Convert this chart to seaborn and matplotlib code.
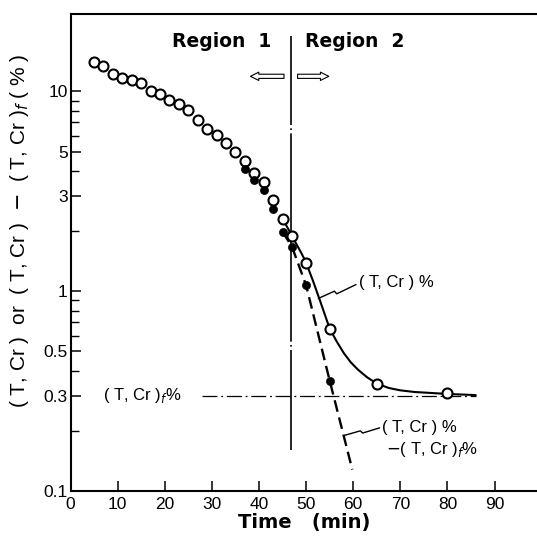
import numpy as np
import pandas as pd
import matplotlib
matplotlib.use("Agg")
import matplotlib.pyplot as plt
from matplotlib.ticker import FixedLocator, NullFormatter
import seaborn as sns

# open circles: (T,Cr) %
open_t = [5, 7, 9, 11, 13, 15, 17, 19, 21, 23, 25, 27, 29, 31, 33, 35, 37, 39, 41, 43, 45, 47,
          50, 55, 65, 80]
open_c = [14.1, 13.4, 12.2, 11.7, 11.4, 11.0, 10.0, 9.7, 9.1, 8.6, 8.1, 7.2, 6.5, 6.06, 5.5,
          4.95, 4.47, 3.9, 3.5, 2.85, 2.31, 1.89, 1.39, 0.65, 0.342, 0.31]

# filled circles: (T,Cr) - (T,Cr)f
fill_t = [37, 39, 41, 43, 45, 47, 50, 55]
fill_c = [4.1, 3.6, 3.2, 2.58, 1.98, 1.67, 1.07, 0.357]

# smooth (T,Cr)% curve in region 2
curve_t = [45, 47, 49, 50, 51.5, 53, 55, 56.5, 58, 59.5, 61, 63, 65, 67.5, 70, 73, 76, 80, 86]
curve_c = [2.31, 1.89, 1.55, 1.39, 1.12, 0.89, 0.65, 0.56, 0.49, 0.44, 0.405, 0.37, 0.345,
           0.328, 0.319, 0.313, 0.310, 0.306, 0.302]

# dashed difference line
dash_t = [45, 47, 50, 55, 59.8]
dash_c = [1.98, 1.67, 1.07, 0.357, 0.128]

cr_f = 0.3
t_switch = 46.7

sns.set_style("ticks")
plt.rcParams['font.family'] = ['Liberation Sans', 'DejaVu Sans']
plt.rcParams.update({'text.color': 'black', 'axes.labelcolor': 'black',
                     'xtick.color': 'black', 'ytick.color': 'black',
                     'axes.edgecolor': 'black'})

fig = plt.figure(figsize=(5.37, 5.45), dpi=100)
ax = fig.add_axes([70.5 / 537, 54 / 545, 466.5 / 537, 477 / 545])

sns.lineplot(x=curve_t, y=curve_c, ax=ax, color='black', linewidth=1.5, sort=False)
sns.lineplot(x=dash_t, y=dash_c, ax=ax, color='black', linewidth=1.7, sort=False,
             linestyle=(0, (5, 2.5)))
ax.plot([28, 86], [cr_f, cr_f], color='black', linewidth=0.9, linestyle=(0, (12, 3, 1.5, 3)))
ax.plot([t_switch, t_switch], [0.16, 19], color='black', linewidth=1.2,
        linestyle=(0, (60, 2, 1, 2)))

sns.scatterplot(x=open_t, y=open_c, ax=ax, marker='o', s=52, facecolor='white',
                edgecolor='black', linewidth=1.5, zorder=3)
sns.scatterplot(x=fill_t, y=fill_c, ax=ax, marker='o', s=34, color='black',
                edgecolor='black', zorder=4)

ax.set_yscale('log')
ax.set_xlim(0, 99)
ax.set_ylim(0.1, 24.4)

major_y = [0.1, 0.3, 0.5, 1, 3, 5, 10]
minor_y = [0.2, 0.4, 0.6, 0.7, 0.8, 0.9, 2, 4, 6, 7, 8, 9]
ax.yaxis.set_major_locator(FixedLocator(major_y))
ax.yaxis.set_minor_locator(FixedLocator(minor_y))
ax.yaxis.set_minor_formatter(NullFormatter())
ax.set_yticklabels(['0.1', '0.3', '0.5', '1', '3', '5', '10'])
ax.set_xticks(range(0, 100, 10))

ax.tick_params(axis='both', which='major', direction='in', length=7, width=1.1,
               labelsize=12.5)
ax.tick_params(axis='y', which='minor', direction='in', length=6, width=1.0)
ax.tick_params(axis='x', pad=4)
ax.tick_params(axis='y', pad=2)

for side in ['left', 'bottom', 'top']:
    ax.spines[side].set_linewidth(1.5)
ax.spines['right'].set_visible(False)

ax.set_xlabel('Time   (min)', fontsize=14, fontweight='bold', labelpad=1,
              family=['DejaVu Sans'])
ax.set_ylabel('( T, Cr )  or  ( T, Cr )  $-$  ( T, Cr )$_f$ ( % )', fontsize=15, labelpad=4)
ax.yaxis.set_label_coords(-0.085, 0.545)

ax.text(21.5, 17.7, 'Region  1', fontsize=13.5, fontweight='bold', va='center', ha='left',
        family=['DejaVu Sans'])
ax.text(49.7, 17.7, 'Region  2', fontsize=13.5, fontweight='bold', va='center', ha='left',
        family=['DejaVu Sans'])

ax.annotate('', xy=(37.6, 11.9), xytext=(45.9, 11.9),
            arrowprops=dict(arrowstyle='simple,head_length=0.6,head_width=0.6,tail_width=0.3',
                            fc='white', ec='black', lw=0.8))
ax.annotate('', xy=(55.4, 11.9), xytext=(47.6, 11.9),
            arrowprops=dict(arrowstyle='simple,head_length=0.6,head_width=0.6,tail_width=0.3',
                            fc='white', ec='black', lw=0.8))

ax.text(6.9, cr_f, '( T, Cr )$_f$%', fontsize=12, va='center', ha='left')
ax.text(61.3, 1.1, '( T, Cr ) %', fontsize=12, va='center', ha='left')
ax.plot([52.6, 56, 56.5, 60.6], [0.92, 1.0, 0.97, 1.08], color='black', linewidth=1)
ax.text(66, 0.207, '( T, Cr ) %', fontsize=12, va='center', ha='left')
ax.text(67, 0.162, '$-$( T, Cr )$_f$%', fontsize=12, va='center', ha='left')
ax.plot([58.2, 61.5, 62, 65.6], [0.19, 0.2, 0.195, 0.207], color='black', linewidth=1)

fig.savefig('out.png', dpi=100)
